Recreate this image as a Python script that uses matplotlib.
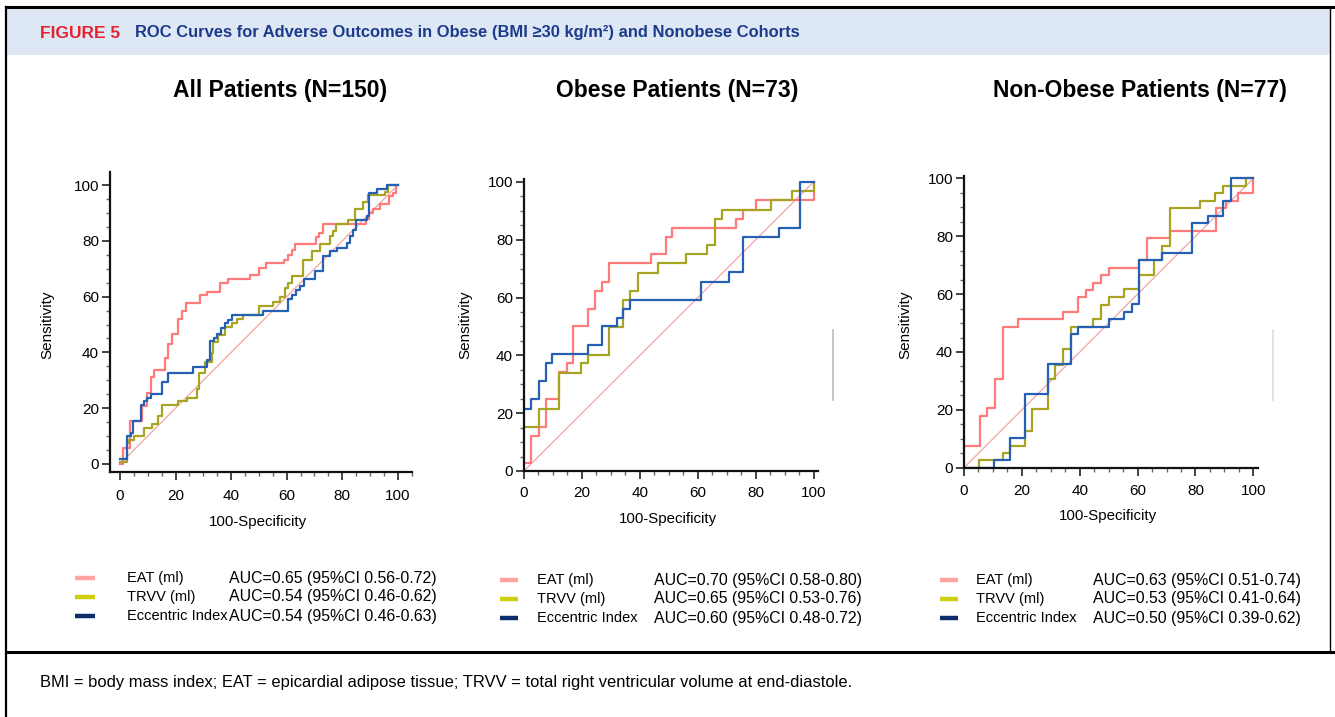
import matplotlib
matplotlib.use("Agg")
import matplotlib.pyplot as plt
from matplotlib.lines import Line2D
from matplotlib.patches import Rectangle
from matplotlib.ticker import MultipleLocator

W, H = 1335, 717

# ---- data: ROC step points (100-specificity, sensitivity) ----
p1_eat_x = [0, 0.9, 3.6, 7.8, 9.6, 11.0, 12.4, 16.2, 17.4, 18.6, 21.0, 22.2, 23.8, 28.8, 31.4, 36.0, 39.0,
            46.8, 50.0, 52.5, 59.0, 60.5, 61.8, 63.0, 70.5, 71.8, 73.0, 88.5, 89.5, 91.0, 93.5, 97.0, 98.3, 99.5, 100]
p1_eat_y = [0, 5.7, 15.5, 20.6, 25.3, 31.0, 33.7, 37.9, 43.0, 46.6, 51.9, 55.0, 57.8, 60.6, 61.8, 64.8, 66.2,
            67.6, 70.1, 71.9, 73.1, 74.9, 76.7, 78.7, 81.5, 82.7, 85.9, 87.7, 90.0, 91.5, 93.2, 96.0, 97.3, 100, 100]
p1_trvv_x = [0, 2.4, 3.2, 5.0, 8.8, 11.4, 13.8, 15.0, 21.0, 24.0, 27.6, 28.6, 30.6, 33.0, 33.6, 35.4, 37.8,
             40.2, 42.0, 44.2, 50.0, 55.2, 57.6, 59.4, 60.6, 61.8, 65.7, 69.0, 72.0, 75.6, 76.6, 77.7, 82.2,
             84.6, 87.6, 89.4, 95.4, 96.5, 100]
p1_trvv_y = [0.8, 7.4, 8.6, 10.0, 12.8, 14.3, 17.2, 21.1, 22.6, 23.8, 26.8, 32.5, 36.7, 39.7, 43.8, 46.2, 49.2,
             50.6, 51.9, 53.4, 56.5, 58.0, 59.8, 63.1, 64.9, 67.5, 73.3, 76.3, 79.0, 81.7, 83.5, 86.1, 87.5,
             91.3, 93.9, 96.3, 97.5, 100, 100]
p1_ecc_x = [0, 2.4, 3.8, 4.8, 7.4, 8.8, 9.8, 11.0, 15.0, 17.4, 26.4, 31.2, 32.4, 33.8, 35.0, 36.3, 37.8, 39.0,
            40.2, 51.6, 60.6, 62.0, 63.4, 64.8, 66.4, 70.2, 73.2, 75.6, 78.0, 81.6, 82.8, 84.0, 85.0, 88.8,
            89.8, 92.5, 96.0, 100]
p1_ecc_y = [1.7, 10.0, 11.2, 15.5, 21.1, 22.6, 23.8, 25.1, 29.5, 32.5, 34.9, 37.3, 44.2, 45.0, 46.5, 48.6, 50.4,
            51.6, 53.4, 54.8, 59.2, 60.7, 62.3, 63.7, 66.3, 69.1, 74.7, 76.3, 77.5, 79.3, 81.7, 83.9, 87.5, 88.9,
            97.0, 98.6, 100, 100]

p2_eat_x = [0, 2.4, 5.2, 7.5, 12.2, 14.7, 17.0, 22.2, 24.5, 27.0, 29.4, 44.0, 49.0, 51.0, 73.1, 75.6, 80.2, 100]
p2_eat_y = [2.9, 12.1, 15.1, 24.8, 34.4, 37.2, 50.0, 56.0, 62.3, 65.4, 71.8, 75.0, 81.0, 84.2, 87.3, 90.4, 93.7, 100]
p2_trvv_x = [0, 5.2, 12.2, 19.7, 22.2, 29.4, 34.3, 36.6, 39.2, 46.3, 56.1, 63.3, 65.9, 68.2, 85.2, 92.6, 100]
p2_trvv_y = [15.1, 21.3, 34.0, 37.2, 40.1, 49.7, 59.3, 62.2, 68.5, 71.8, 74.9, 78.1, 87.3, 90.4, 93.7, 96.8, 100]
p2_ecc_x = [0, 2.4, 5.2, 7.5, 9.8, 22.2, 27.0, 32.0, 34.3, 36.6, 61.0, 70.7, 75.6, 87.9, 95.2, 100]
p2_ecc_y = [21.4, 24.8, 31.0, 37.2, 40.3, 43.5, 50.0, 52.8, 56.0, 59.2, 65.4, 68.7, 81.0, 84.2, 100, 100]

p3_eat_x = [0, 5.5, 7.8, 10.7, 13.4, 18.6, 34.3, 39.5, 42.2, 44.7, 47.4, 50.1, 60.5, 63.2, 71.2, 87.0, 90.5,
            94.8, 100]
p3_eat_y = [7.5, 17.9, 20.5, 30.7, 48.7, 51.3, 53.9, 58.9, 61.4, 64.0, 66.6, 69.1, 71.8, 79.3, 81.9, 89.7, 92.3,
            94.8, 100]
p3_trvv_x = [0, 5.2, 13.4, 15.9, 21.1, 23.6, 28.9, 31.5, 34.3, 36.9, 44.7, 47.4, 50.1, 55.4, 60.5, 65.8, 68.5,
             71.2, 81.6, 86.8, 89.6, 97.4, 100]
p3_trvv_y = [0, 2.6, 5.0, 7.5, 12.7, 20.3, 30.7, 35.5, 41.0, 48.7, 51.3, 56.2, 58.9, 61.7, 66.6, 71.8, 76.6,
             89.7, 92.3, 94.8, 97.5, 100, 100]
p3_ecc_x = [0, 10.5, 15.9, 21.1, 28.9, 36.9, 39.5, 50.1, 55.4, 58.0, 60.5, 68.5, 78.9, 84.2, 89.6, 92.3, 100]
p3_ecc_y = [0, 2.6, 10.2, 25.5, 35.7, 46.1, 48.7, 51.3, 53.9, 56.5, 71.8, 74.3, 84.7, 87.1, 92.3, 100, 100]

titles = ["All Patients (N=150)", "Obese Patients (N=73)", "Non-Obese Patients (N=77)"]
series_names = ["EAT (ml)", "TRVV (ml)", "Eccentric Index"]
auc_text = [
    ["AUC=0.65 (95%CI 0.56-0.72)", "AUC=0.54 (95%CI 0.46-0.62)", "AUC=0.54 (95%CI 0.46-0.63)"],
    ["AUC=0.70 (95%CI 0.58-0.80)", "AUC=0.65 (95%CI 0.53-0.76)", "AUC=0.60 (95%CI 0.48-0.72)"],
    ["AUC=0.63 (95%CI 0.51-0.74)", "AUC=0.53 (95%CI 0.41-0.64)", "AUC=0.50 (95%CI 0.39-0.62)"],
]
ticks = [0, 20, 40, 60, 80, 100]

curve_colors = ["#ff7b7b", "#a6a422", "#2560b5"]
legend_colors = ["#ffa3a3", "#cfcf10", "#0d2c6c"]
sans = ["Liberation Sans", "DejaVu Sans"]

fig = plt.figure(figsize=(W / 100, H / 100), dpi=100)


def fx(px):
    return px / W


def fy(py):
    return 1 - py / H


# frame, header band, caption rule
fig.add_artist(Rectangle((fx(7), fy(55)), fx(1330) - fx(7), fy(8) - fy(55), transform=fig.transFigure,
                         facecolor="#dde8f4", edgecolor="none"))
for xs, ys, lw in [([6, 1335], [7, 7], 2.2), ([6, 6], [7, 717], 1.6), ([6, 1335], [652, 652], 2.2),
                   ([1330, 1330], [7, 652], 1.0)]:
    fig.add_artist(Line2D([fx(x) for x in xs], [fy(y) for y in ys], color="black", lw=lw))
fig.text(fx(40), fy(33), "FIGURE 5", color="#e52330", fontsize=12.5, fontweight="bold", va="center",
         family=sans)
fig.text(fx(135), fy(33), "ROC Curves for Adverse Outcomes in Obese (BMI \u226530 kg/m\u00b2) and Nonobese Cohorts",
         color="#1d3b8c", fontsize=11.9, fontweight="bold", va="center", family=sans)
fig.text(fx(40), fy(683), "BMI = body mass index; EAT = epicardial adipose tissue; "
         "TRVV = total right ventricular volume at end-diastole.", fontsize=11.9, va="center", family=sans)

# faint stray marks present in the original figure
fig.add_artist(Line2D([fx(833), fx(833)], [fy(330), fy(400)], color="#bbbbbb", lw=1.2))
fig.add_artist(Line2D([fx(1273), fx(1273)], [fy(330), fy(400)], color="#dddddd", lw=1.2))

panels = [
    dict(box=(110, 412, 172, 472), xlim=(-3.6, 105.1), ylim=(-2.9, 104.7), title_x=280, ylab_x=47, xlab_y=522,
         xpad=6.5, leg_line=(75, 95), leg_lab=127, leg_auc=229, leg_y=578,
         data=[(p1_eat_x, p1_eat_y), (p1_trvv_x, p1_trvv_y), (p1_ecc_x, p1_ecc_y)]),
    dict(box=(524, 818, 179, 471), xlim=(0, 101.5), ylim=(0, 101), title_x=677, ylab_x=465, xlab_y=519,
         xpad=5, leg_line=(500, 518), leg_lab=537, leg_auc=654, leg_y=580,
         data=[(p2_eat_x, p2_eat_y), (p2_trvv_x, p2_trvv_y), (p2_ecc_x, p2_ecc_y)]),
    dict(box=(964, 1258, 175.5, 467.7), xlim=(0, 101.6), ylim=(0, 101), title_x=1140, ylab_x=905, xlab_y=516,
         xpad=5.5, leg_line=(940, 958), leg_lab=976, leg_auc=1093, leg_y=580,
         data=[(p3_eat_x, p3_eat_y), (p3_trvv_x, p3_trvv_y), (p3_ecc_x, p3_ecc_y)]),
]

for i, p in enumerate(panels):
    l, r, t, b = p["box"]
    ax = fig.add_axes([fx(l), fy(b), (r - l) / W, (b - t) / H])
    ax.plot([0, 100], [0, 100], color="#f0a5a5", lw=0.9, zorder=1)
    for (xs, ys), c in zip(p["data"], curve_colors):
        ax.step(xs, ys, where="post", color=c, lw=1.6, zorder=2)
    ax.set_xlim(*p["xlim"])
    ax.set_ylim(*p["ylim"])
    ax.set_xticks(ticks)
    ax.set_yticks(ticks)
    ax.xaxis.set_minor_locator(MultipleLocator(5))
    ax.yaxis.set_minor_locator(MultipleLocator(5))
    for s in ["top", "right"]:
        ax.spines[s].set_visible(False)
    for s in ["left", "bottom"]:
        ax.spines[s].set_linewidth(1.6)
        ax.spines[s].set_color("#111111")
    ax.tick_params(which="major", length=6, width=1.2, color="#222222", labelsize=11, pad=2)
    ax.tick_params(axis="x", which="major", pad=p["xpad"])
    ax.tick_params(which="minor", length=3, width=1.0, color="#666666")
    for lab in ax.get_xticklabels() + ax.get_yticklabels():
        lab.set_family(sans)
    ax.set_facecolor("none")

    fig.text(fx(p["title_x"]), fy(90), titles[i], ha="center", va="center", fontsize=16.5,
             fontweight="bold", family=sans)
    fig.text(fx(p["ylab_x"]), fy(325), "Sensitivity", rotation=90, ha="center", va="center",
             fontsize=11, family=sans)
    fig.text(fx((l + r) / 2 - 3), fy(p["xlab_y"]), "100-Specificity", ha="center", va="center",
             fontsize=10.8, family=sans)

    for k in range(3):
        yy = p["leg_y"] + 19 * k
        fig.add_artist(Line2D([fx(p["leg_line"][0]), fx(p["leg_line"][1])], [fy(yy), fy(yy)],
                              color=legend_colors[k], lw=3.2, solid_capstyle="butt"))
        fig.text(fx(p["leg_lab"]), fy(yy), series_names[k], va="center", fontsize=10.5, family=sans)
        fig.text(fx(p["leg_auc"]), fy(yy), auc_text[i][k], va="center", fontsize=11.4, family=sans)

fig.savefig("out.png", dpi=100)
